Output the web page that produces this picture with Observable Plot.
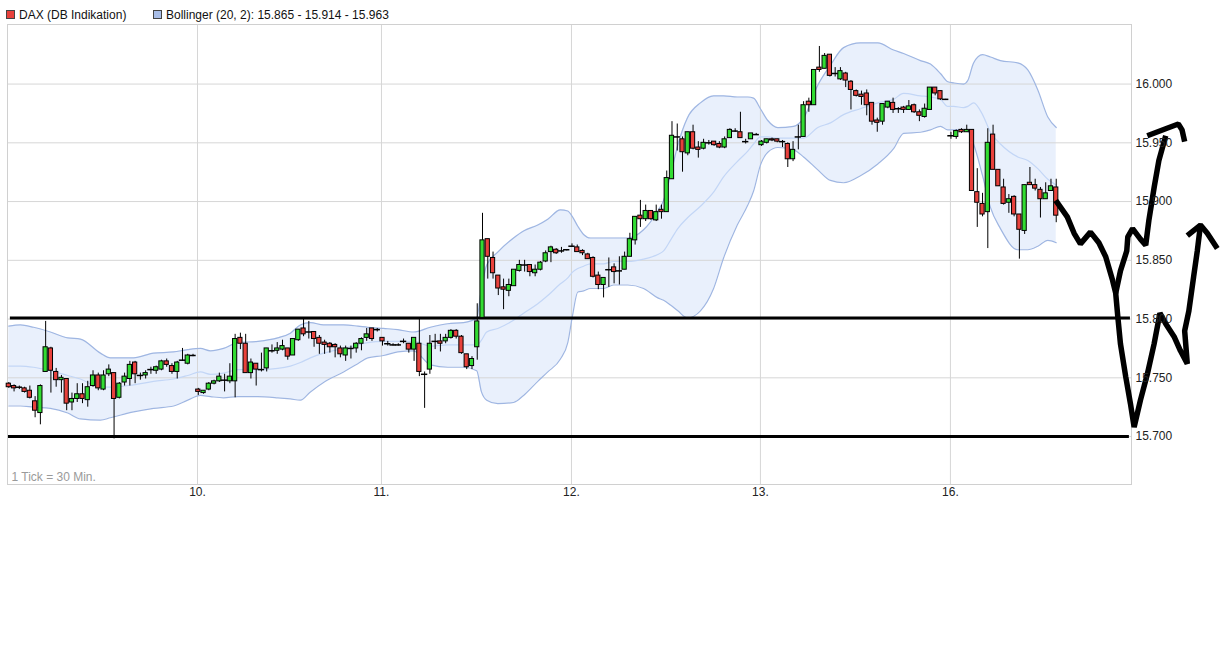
<!DOCTYPE html>
<html>
<head>
<meta charset="utf-8">
<script src="https://cdn.jsdelivr.net/npm/d3@7"></script>
<script src="https://cdn.jsdelivr.net/npm/@observablehq/plot@0.6"></script>
<style>
  body { margin: 0; background: #fff; font-family: "Liberation Sans", Arial, sans-serif; }
  #legend { position: relative; height: 22px; font-size: 12px; color: #111; }
  #legend .sq { position: absolute; top: 10px; width: 7px; height: 7px; border: 1px solid #444; }
  #legend .tx { position: absolute; top: 8px; line-height: 14px; white-space: nowrap; }
  svg { overflow: visible; display: block; }
</style>
</head>
<body>
<div id="legend"></div>
<div id="chart"></div>
<script>
// ---- Legend texts ----
const seriesName = "DAX (DB Indikation)";
const bollingerName = "Bollinger (20, 2): 15.865 - 15.914 - 15.963";
const candleUp = "#32dc32";
const candleDown = "#e8413c";

// ---- Candles [open, high, low, close], 30-minute bars, one array per trading day ----
const day09 = [
  [15745,15746,15741,15742],[15743,15744,15738,15741],[15742,15743,15740,15742],[15741,15742,15737,15738],
  [15739,15743,15732,15733],[15730,15734,15716,15722],[15720,15744,15710,15743],[15755,15798,15755,15776],
  [15775,15776,15737,15756],[15755,15758,15742,15748],[15748,15752,15737,15750],[15749,15749,15722,15728],
  [15729,15737,15722,15732],[15732,15745,15729,15736],[15736,15745,15728,15732],[15731,15747,15725,15742],
  [15743,15756,15742,15752],[15752,15754,15739,15741],[15740,15756,15739,15752],[15753,15761,15751,15757],
  [15754,15754,15698,15732],[15733,15746,15732,15745],[15746,15754,15743,15751],[15749,15764,15743,15761],
  [15763,15764,15745,15753],[15752,15754,15748,15752],[15752,15756,15749,15754],[15757,15759,15753,15757],
  [15756,15760,15753,15759],[15757,15765,15756,15764],[15764,15766,15759,15761],[15760,15762,15753,15755],
  [15755,15764,15749,15763],[15765,15775,15764,15765],[15762,15770,15761,15769],[15769,15770,15768,15769]
];
const day10 = [
  [15740,15741,15735,15738],[15737,15739,15736,15739],[15740,15746,15739,15745],[15745,15748,15744,15747],
  [15747,15754,15746,15751],[15748,15753,15738,15748],[15747,15762,15745,15751],[15747,15787,15733,15783],
  [15784,15788,15774,15779],[15779,15787,15754,15754],[15754,15766,15749,15763],[15762,15762,15743,15757],
  [15757,15771,15755,15757],[15758,15775,15755,15775],[15773,15778,15771,15773],[15773,15780,15770,15775],
  [15774,15782,15773,15777],[15775,15775,15765,15768],[15769,15783,15769,15783],[15782,15791,15781,15791],
  [15792,15800,15785,15787],[15789,15798,15783,15789],[15789,15789,15776,15783],[15784,15786,15770,15779],
  [15780,15782,15770,15778],[15779,15780,15771,15776],[15778,15779,15767,15776],[15775,15777,15767,15770],
  [15769,15777,15764,15775],[15775,15777,15766,15775],[15775,15780,15771,15779],[15779,15784,15773,15783],
  [15784,15792,15781,15787],[15792,15792,15781,15783],[15791,15792,15789,15791]
];
const day11 = [
  [15784,15784,15777,15781],[15779,15781,15777,15779],[15778,15779,15777,15778],[15778,15779,15777,15778],
  [15781,15783,15779,15781],[15779,15779,15771,15774],[15774,15784,15764,15784],[15779,15800,15751,15755],
  [15753,15755,15724,15753],[15757,15786,15753,15779],[15781,15787,15774,15781],[15781,15787,15772,15779],
  [15781,15787,15779,15784],[15784,15791,15783,15790],[15790,15791,15783,15785],[15785,15786,15770,15771],
  [15770,15770,15757,15759],[15760,15768,15757,15766],[15776,15813,15765,15798],[15801,15890,15801,15867],
  [15868,15868,15834,15853],[15852,15857,15834,15839],[15837,15837,15820,15826],[15827,15834,15808,15825],
  [15824,15834,15819,15829],[15828,15842,15828,15842],[15841,15850,15840,15846],[15846,15850,15840,15846],
  [15846,15846,15836,15840],[15839,15846,15836,15842],[15842,15849,15841,15848],[15849,15858,15848,15856],
  [15857,15862,15848,15861],[15859,15860,15855,15856],[15858,15861,15856,15858],[15859,15859,15858,15859]
];
const day12 = [
  [15862,15864,15861,15862],[15861,15863,15857,15857],[15858,15859,15854,15856],[15855,15856,15851,15851],
  [15852,15853,15835,15836],[15837,15840,15825,15829],[15829,15835,15818,15835],[15842,15852,15827,15842],
  [15844,15847,15830,15840],[15841,15853,15829,15841],[15842,15857,15842,15853],[15853,15873,15853,15868],
  [15867,15887,15863,15887],[15888,15901,15878,15885],[15885,15897,15883,15892],[15892,15892,15884,15885],
  [15884,15897,15883,15891],[15893,15897,15885,15891],[15891,15926,15891,15920],[15919,15968,15919,15956],
  [15955,15966,15943,15955],[15953,15955,15925,15942],[15941,15959,15939,15959],[15959,15965,15944,15945],
  [15946,15951,15937,15944],[15945,15953,15944,15950],[15950,15952,15948,15950],[15951,15951,15947,15948],
  [15949,15951,15945,15946],[15946,15955,15945,15953],[15954,15962,15954,15961],[15960,15962,15959,15960],
  [15959,15976,15954,15954],[15951,15953,15949,15951],[15953,15958,15953,15958],[15957,15958,15957,15957]
];
const day13 = [
  [15948,15952,15947,15951],[15950,15953,15949,15953],[15953,15954,15951,15952],[15953,15953,15950,15951],
  [15951,15952,15946,15951],[15949,15950,15929,15936],[15936,15951,15934,15944],[15955,15965,15944,15955],
  [15955,15985,15955,15982],[15985,15988,15976,15982],[15982,16012,15982,16012],[16014,16032,16010,16012],
  [16013,16026,16013,16024],[16025,16025,16006,16007],[16009,16014,16006,16009],[16004,16014,16003,16011],
  [16009,16010,15997,16003],[16002,16003,15978,15995],[15994,15995,15989,15990],[15991,15994,15982,15989],
  [15992,15995,15973,15982],[15984,15984,15965,15968],[15969,15971,15959,15967],[15968,15983,15965,15983],
  [15980,15985,15979,15985],[15984,15988,15975,15978],[15979,15980,15975,15979],[15980,15981,15975,15978],
  [15978,15986,15978,15981],[15982,15983,15975,15976],[15976,15978,15968,15973],[15972,15983,15971,15979],
  [15978,15997,15978,15997],[15997,15997,15990,15992],[15994,15994,15986,15987],[15987,15987,15986,15987]
];
const day16 = [
  [15956,15959,15953,15956],[15955,15961,15953,15960],[15961,15962,15958,15959],[15959,15965,15959,15961],
  [15961,15961,15909,15909],[15908,15928,15878,15899],[15898,15907,15887,15889],[15891,15962,15860,15950],
  [15957,15965,15927,15927],[15927,15927,15913,15913],[15912,15919,15897,15898],[15899,15906,15890,15902],
  [15904,15905,15887,15889],[15889,15889,15851,15876],[15875,15914,15872,15914],[15916,15929,15914,15914],
  [15914,15919,15909,15911],[15910,15912,15886,15902],[15902,15916,15902,15907],[15909,15919,15909,15913],
  [15912,15919,15882,15888]
];

// ---- Bollinger (20, 2) band, read at bar positions ----
const bandSlot = [0,2.2,4.7,7.9,11.2,13.6,17.4,19.3,23.7,27.5,31.3,34,36.4,38.3,40.8,43.5,47.3,51.1,53.5,55.4,57.3,59.8,63.6,66.3,68.2,71.2,73.9,76.9,80.1,83.4,86.4,88.9,89.8,90.8,92.9,95.9,97.8,100.5,102.4,104.8,106.2,107.1,108.1,109.2,110.5,113,114.9,117.6,120.6,123.3,124.4,125.7,127.1,128.9,131.4,133.9,135.8,138.4,140.4,141.5,142.8,144.2,146.1,149.1,151,153.7,156.1,158.6,161.8,165.1,168.1,170,173.2,175.1,177,178.4,179.5,181.4,182.2,183.3,185,186.5,188.4,191.7,193.6,195.5,197.4,199];
const bandUpper = [15794,15795,15793,15789,15784,15783,15771,15767,15767,15771,15772,15774,15775,15773,15775,15780,15781,15784,15788,15795,15797,15795,15795,15794,15793,15792,15791,15789,15793,15796,15797,15801,15826,15846,15857,15869,15875,15880,15885,15893,15892,15887,15879,15872,15869,15869,15869,15869,15876,15892,15901,15922,15948,15971,15984,15990,15990,15989,15989,15988,15979,15969,15963,15964,15971,15999,16016,16031,16035,16035,16029,16026,16020,16017,16009,16002,16001,16000,16003,16018,16025,16023,16020,16018,16012,15995,15972,15963];
const bandMiddle = [15760,15760,15759,15756,15752,15749,15742,15742,15744,15747,15749,15752,15755,15753,15754,15757,15757,15758,15760,15763,15767,15771,15775,15778,15780,15781,15781,15781,15777,15778,15778,15778,15782,15789,15792,15799,15805,15813,15820,15830,15835,15840,15843,15845,15847,15847,15849,15849,15851,15855,15858,15867,15877,15886,15896,15908,15921,15934,15943,15949,15955,15955,15954,15954,15954,15963,15967,15974,15979,15984,15987,15992,15990,15989,15987,15981,15981,15980,15981,15984,15974,15959,15949,15938,15935,15928,15919,15914];
const bandLower = [15726,15726,15725,15724,15720,15715,15714,15716,15721,15724,15726,15731,15735,15734,15733,15734,15734,15733,15732,15731,15738,15746,15755,15762,15767,15769,15772,15773,15761,15759,15759,15756,15738,15731,15728,15729,15735,15747,15755,15766,15780,15803,15823,15824,15826,15826,15829,15829,15826,15818,15816,15812,15807,15801,15807,15826,15852,15880,15897,15909,15931,15942,15946,15944,15938,15927,15918,15916,15922,15932,15945,15958,15959,15961,15964,15961,15961,15961,15960,15949,15922,15895,15877,15859,15859,15862,15867,15865];

// ---- Support lines and hand-drawn forecast strokes [bar position, index level] ----
const supportLevels = [15801, 15700];
const supportFrom = [0.3, -0.06];
const supportTo = [213.1, 212.9];
const drawnPathA = [[198.9,15901],[201.1,15887],[202.4,15873],[203.6,15864],[205.5,15874],[207.1,15865],[208.4,15853],[209.7,15833],[210.3,15822],[210.7,15802],[211.2,15779],[212.2,15751],[213.1,15728],[213.8,15708],[215,15731],[216.3,15753],[217.6,15779],[218.7,15805],[219.8,15796],[221.4,15785],[222.6,15773],[223.9,15762],[223.4,15790],[224.2,15807],[225.1,15836],[225.8,15858],[226.4,15880]];
const arrowHeadA = [[223.9,15871],[226.4,15880],[227.7,15873],[229.6,15860]];
const drawnPathB = [[210.3,15822],[211.2,15841],[212.4,15858],[212.6,15870],[213.5,15877],[215,15868],[216,15863],[216.6,15884],[217.6,15912],[218.5,15935],[219.8,15956]];
const arrowHeadB = [[216.3,15956],[219.8,15962],[222.2,15966],[222.9,15961],[223.4,15951]];

// ---- Axis ticks ----
const dayTicks = [35.85, 70.8, 106.9, 142.8, 178.9];
const dayLabels = ["10.", "11.", "12.", "13.", "16."];
const yTicks = [15700, 15750, 15800, 15850, 15900, 15950, 16000];
const tickNote = "1 Tick = 30 Min.";

// ---- Build tables ----
const candles = [...day09, ...day10, ...day11, ...day12, ...day13, ...day16]
  .map(([o, h, l, c], i) => ({s: i, o, h, l, c}));
const ups = candles.filter(d => d.c > d.o);
const downs = candles.filter(d => d.c < d.o);
const dojis = candles.filter(d => d.c === d.o);
const band = bandSlot.map((s, i) => ({s, u: bandUpper[i], m: bandMiddle[i], l: bandLower[i]}));
const supports = supportLevels.map((v, i) => ({v, x1: supportFrom[i], x2: supportTo[i]}));
const strokes = [
  ...drawnPathA.map(([s, v]) => ({s, v, id: "A"})),
  ...arrowHeadA.map(([s, v]) => ({s, v, id: "AH"})),
  ...drawnPathB.map(([s, v]) => ({s, v, id: "B"})),
  ...arrowHeadB.map(([s, v]) => ({s, v, id: "BH"}))
];

// ---- Legend ----
const legend = document.getElementById("legend");
legend.innerHTML = `
  <span class="sq" style="left:6px;background:${candleDown}"></span>
  <span class="tx" style="left:19px">${seriesName}</span>
  <span class="sq" style="left:153px;background:#a9bee8"></span>
  <span class="tx" style="left:166px">${bollingerName}</span>`;

const fmt = d => d3.format(",")(d).replace(/,/g, ".");

const chart = Plot.plot({
  width: 1222,
  height: 490,
  marginLeft: 7,
  marginRight: 91,
  marginTop: 2,
  marginBottom: 28,
  style: {fontFamily: "'Liberation Sans', Arial, sans-serif", fontSize: "12px", background: "#fff", overflow: "visible"},
  x: {type: "linear", domain: [-0.247, 213.3]},
  y: {type: "linear", domain: [15659.2, 16050.7]},
  marks: [
    Plot.areaY(band, {x: "s", y1: "l", y2: "u", fill: "#e9f0fc", curve: "monotone-x"}),
    Plot.gridY({ticks: yTicks, stroke: "#d6d6d6", strokeOpacity: 1}),
    Plot.gridX({ticks: dayTicks, stroke: "#d6d6d6", strokeOpacity: 1}),
    Plot.frame({stroke: "#d0d0d0"}),
    Plot.line(band, {x: "s", y: "m", stroke: "#c3d6f6", strokeWidth: 1.2, curve: "monotone-x"}),
    Plot.line(band, {x: "s", y: "u", stroke: "#9fb6e2", strokeWidth: 1.2, curve: "monotone-x"}),
    Plot.line(band, {x: "s", y: "l", stroke: "#9fb6e2", strokeWidth: 1.2, curve: "monotone-x"}),
    Plot.ruleY(supports, {y: "v", x1: "x1", x2: "x2", stroke: "#000", strokeWidth: 3}),
    Plot.ruleX(candles, {x: "s", y1: "l", y2: "h", stroke: "#000", strokeWidth: 1}),
    Plot.rect(ups, {x1: d => d.s - 0.4, x2: d => d.s + 0.4, y1: "o", y2: "c", fill: candleUp, stroke: "#000", strokeWidth: 1}),
    Plot.rect(downs, {x1: d => d.s - 0.4, x2: d => d.s + 0.4, y1: "o", y2: "c", fill: candleDown, stroke: "#000", strokeWidth: 1}),
    Plot.ruleY(dojis, {y: "o", x1: d => d.s - 0.6, x2: d => d.s + 0.6, stroke: "#000", strokeWidth: 1.5}),
    Plot.line(strokes, {x: "s", y: "v", z: "id", stroke: "#000", strokeWidth: 5.5, strokeLinejoin: "miter", strokeLinecap: "butt"}),
    Plot.axisY({anchor: "right", ticks: yTicks, tickSize: 0, tickPadding: 4, tickFormat: fmt, fill: "#222", label: null}),
    Plot.axisX({anchor: "bottom", ticks: dayTicks, tickSize: 0, tickPadding: 3, tickFormat: d => dayLabels[dayTicks.indexOf(d)], fill: "#222", label: null}),
    Plot.text([tickNote], {frameAnchor: "bottom-left", dx: 4, dy: -4, fill: "#9a9a9a", fontSize: 12})
  ]
});
document.getElementById("chart").appendChild(chart);
</script>
</body>
</html>
